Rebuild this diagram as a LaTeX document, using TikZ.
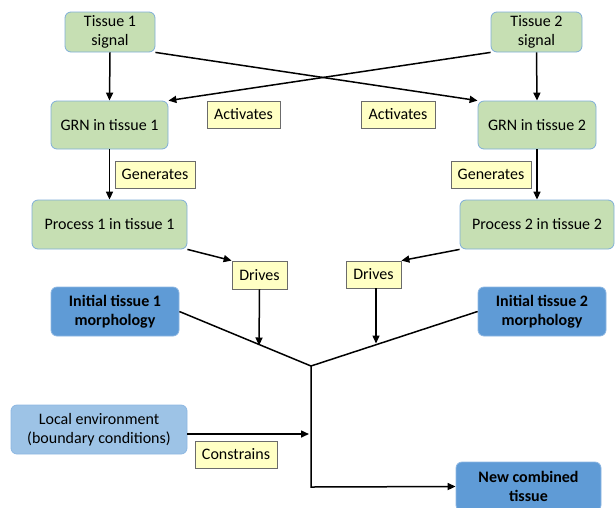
\documentclass[tikz,border=0pt]{standalone}
\usepackage{fontspec}
\setmainfont{Carlito}
\usetikzlibrary{arrows.meta}
\definecolor{gfill}{HTML}{C6DFB3}
\definecolor{gdraw}{HTML}{7FAED8}
\definecolor{bfill}{HTML}{5F9BD6}
\definecolor{bdraw}{HTML}{8DB7E2}
\definecolor{lfill}{HTML}{9DC3E6}
\definecolor{yfill}{HTML}{FFFFC4}
\definecolor{ydraw}{HTML}{6B6B6B}
\newcommand{\dfont}{\fontsize{16pt}{19pt}\selectfont}
\tikzset{
  gbox/.style={draw=gdraw, fill=gfill, rounded corners=6pt, line width=0.8pt, align=center, font=\dfont, inner sep=0pt},
  bbox/.style={draw=bdraw, fill=bfill, rounded corners=6pt, line width=0.8pt, align=center, font=\dfont\bfseries, inner sep=0pt},
  lbox/.style={draw=bdraw, fill=lfill, rounded corners=6pt, line width=0.8pt, align=center, font=\dfont, inner sep=0pt},
  ylab/.style={draw=ydraw, fill=yfill, line width=0.8pt, font=\dfont, inner sep=0pt},
  conn/.style={line width=1.5pt, -{Triangle[length=8pt,width=7pt]}},
  plain/.style={line width=1.5pt},
}
\begin{document}
\begin{tikzpicture}[x=1pt,y=-1pt]
\useasboundingbox (0,0) rectangle (615,507);
% green boxes
\node[gbox, minimum width=90pt, minimum height=40pt] (t1) at (110,32) {Tissue 1\\signal};
\node[gbox, minimum width=91pt, minimum height=40pt] (t2) at (536.5,32) {Tissue 2\\signal};
\node[gbox, minimum width=117pt, minimum height=48pt] (g1) at (109.5,125) {GRN in tissue 1};
\node[gbox, minimum width=118pt, minimum height=48pt] (g2) at (537,125) {GRN in tissue 2};
\node[gbox, minimum width=155pt, minimum height=49pt] (p1) at (109.5,224.5) {Process 1 in tissue 1};
\node[gbox, minimum width=154pt, minimum height=49pt] (p2) at (537,224.5) {Process 2 in tissue 2};
% blue boxes
\node[bbox, minimum width=128pt, minimum height=49pt] (m1) at (115,311.5) {Initial tissue 1\\morphology};
\node[bbox, minimum width=128pt, minimum height=49pt] (m2) at (542,311.5) {Initial tissue 2\\morphology};
\node[lbox, minimum width=176pt, minimum height=49pt] (env) at (99,429.5) {Local environment\\(boundary conditions)};
\node[bbox, minimum width=145pt, minimum height=49pt] (nc) at (528.5,486.5) {New combined\\tissue};
% labels
\node[ylab, minimum width=73pt, minimum height=27pt] (a1) at (243.5,114.5) {Activates};
\node[ylab, minimum width=74pt, minimum height=27pt] (a2) at (398,114.5) {Activates};
\node[ylab, minimum width=80pt, minimum height=27pt] (ge1) at (155,174.5) {Generates};
\node[ylab, minimum width=80pt, minimum height=27pt] (ge2) at (491,174.5) {Generates};
\node[ylab, minimum width=55pt, minimum height=28pt] (d1) at (259.5,275) {Drives};
\node[ylab, minimum width=55pt, minimum height=27pt] (d2) at (373.5,274.5) {Drives};
\node[ylab, minimum width=82pt, minimum height=27pt] (cs) at (236,454.5) {Constrains};
% coordinates
\coordinate (j) at (311,366);
\coordinate (jb) at (311,487);
\coordinate (d1t) at (259,345.5);
\coordinate (d2t) at (376,343.5);
\coordinate (envt) at (309,434);
% connectors
\draw[conn] (t1.south) -- (g1.north);
\draw[conn] (t2.south) -- (g2.north);
\draw[conn] (t1.south east) -- (g2.north west);
\draw[conn] (t2.south west) -- (g1.north east);
\draw[conn] (g1.south) -- (p1.north);
\draw[conn] (g2.south) -- (p2.north);
\draw[conn] (p1.south east) -- (d1.north west);
\draw[conn] (p2.south west) -- (d2.north east);
\draw[plain] (m1.east) -- (j);
\draw[plain] (m2.west) -- (j);
\draw[conn] (d1.south) -- (d1t);
\draw[conn] ([xshift=2.5pt]d2.south) -- (d2t);
\draw[conn] (env.east |- envt) -- (envt);
\draw[conn] (j) -- (jb) -- (nc.west);
\end{tikzpicture}
\end{document}
